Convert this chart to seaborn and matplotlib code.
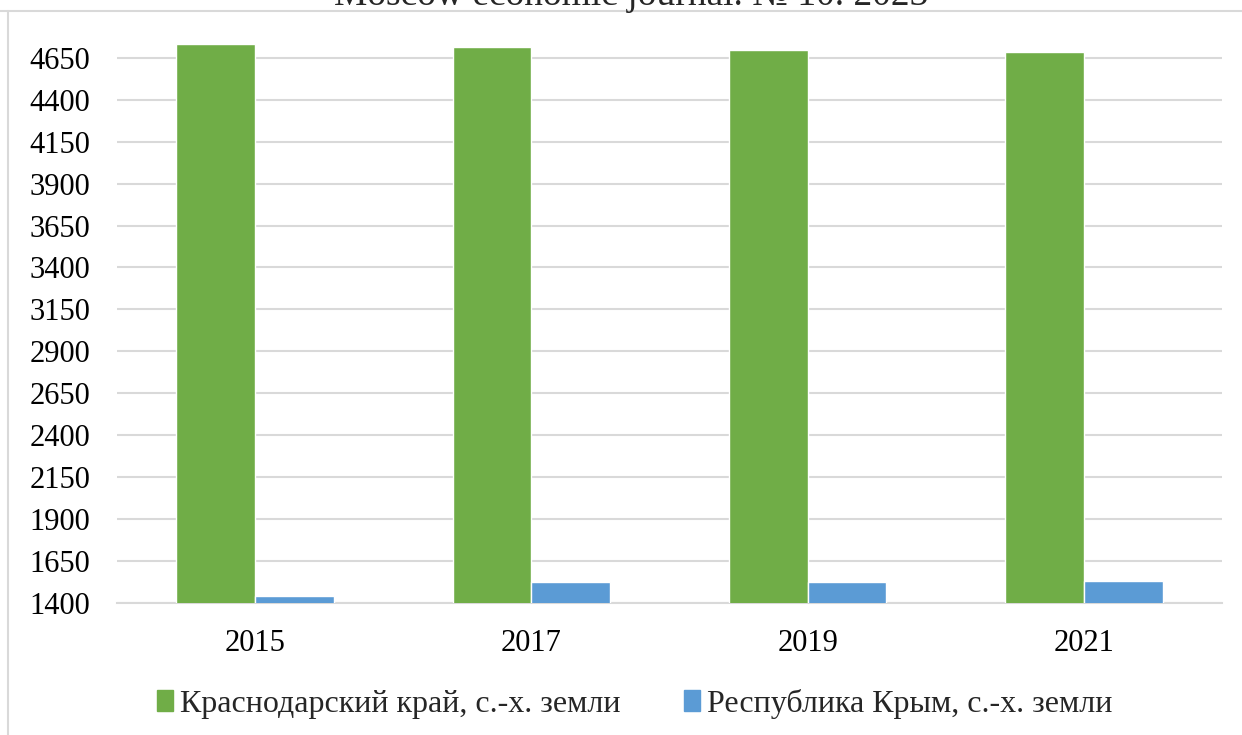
import pandas as pd
import seaborn as sns
import matplotlib.pyplot as plt
from matplotlib.lines import Line2D

# Data
years = ["2015", "2017", "2019", "2021"]
krasnodar = [4733, 4717, 4694, 4684]
crimea = [1442, 1525, 1525, 1529]
series_names = ["Краснодарский край, с.-х. земли", "Республика Крым, с.-х. земли"]
y_ticks = [1400, 1650, 1900, 2150, 2400, 2650, 2900, 3150, 3400, 3650, 3900, 4150, 4400, 4650]

df = pd.DataFrame({
    "Год": years * 2,
    "Значение": krasnodar + crimea,
    "Ряд": [series_names[0]] * len(years) + [series_names[1]] * len(years),
})

sns.set_style("white")
plt.rcParams["font.family"] = ["Liberation Serif", "DejaVu Serif"]

fig = plt.figure(figsize=(12.42, 7.35), dpi=100)
ax = fig.add_axes([117 / 1242, 1 - 603 / 735, 1105 / 1242, (603 - 36) / 735])

palette = {series_names[0]: "#70AD47", series_names[1]: "#5B9BD5"}
sns.barplot(data=df, x="Год", y="Значение", hue="Ряд", palette=palette,
            width=0.57, gap=0, saturation=1, ax=ax, legend=False, zorder=3)

ax.set_ylim(1400, 4780)
ax.set_yticks(y_ticks)
ax.set_xlim(-0.5, len(years) - 0.5)
ax.grid(axis="y", color="#d9d9d9", linewidth=1.5, zorder=0)
ax.set_axisbelow(True)
for side in ["top", "right", "left"]:
    ax.spines[side].set_visible(False)
ax.spines["bottom"].set_color("#d9d9d9")
ax.spines["bottom"].set_linewidth(1.5)
ax.tick_params(axis="both", length=0, labelsize=22, colors="black")
ax.tick_params(axis="x", pad=19)
ax.tick_params(axis="y", pad=19)
ax.set_xlabel("")
ax.set_ylabel("")

# legend
handles = [plt.Rectangle((0, 0), 1, 1, color=palette[n]) for n in series_names]
fig.legend(handles, series_names, loc="center", bbox_to_anchor=(0.511, 1 - 704 / 735),
           ncol=2, frameon=False, fontsize=23, handlelength=0.5, handleheight=0.65,
           handletextpad=0.2, columnspacing=2.0)

# outer chart border (top and left) and clipped journal header
fig.add_artist(Line2D([0, 1], [1 - 11 / 735, 1 - 11 / 735], color="#d9d9d9", lw=1.5))
fig.add_artist(Line2D([8 / 1242, 8 / 1242], [0, 1 - 11 / 735], color="#d9d9d9", lw=1.5))
fig.text(0.508, 1 - 5 / 735, "Moscow economic journal. № 10. 2023", ha="center",
         va="baseline", fontsize=27)

fig.savefig("out.png", dpi=100)
